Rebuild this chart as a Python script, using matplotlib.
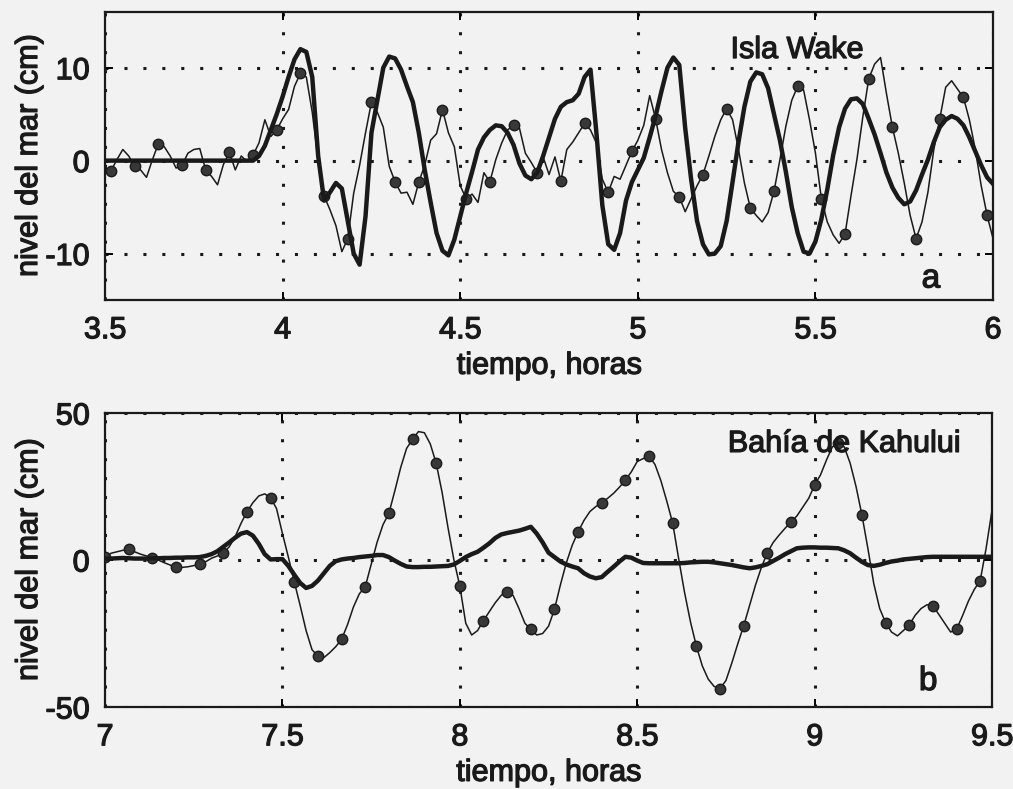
import numpy as np
import matplotlib
matplotlib.use("Agg")
import matplotlib.pyplot as plt
import matplotlib.patheffects as pe

plt.rcParams['font.family'] = ['Liberation Sans', 'DejaVu Sans']
plt.rcParams['axes.unicode_minus'] = False

# muestras cada minuto
t_wake_start = 3.5
t_kah_start = 7.0

# Isla Wake: observado (fino, con circulos) y modelo (grueso), cm
wake_obs = [
    -0.8, -1.1, 0.1, 1.2, 0.5, -0.6, -1.0, -1.8, 0.1, 1.8,
    1.5, 0.5, -0.8, -0.5, 0.8, 1.2, 1.3, -1.0, -1.7, -2.6,
    -0.4, 0.9, -1.0, 0.5, -0.1, 0.6, 1.9, 4.4, 2.6, 3.3,
    4.5, 5.5, 8.0, 9.4, 9.0, 5.2, 0.0, -3.8, -5.3, -7.0,
    -9.8, -8.4, -3.5, -0.5, 3.0, 6.3, 5.2, 3.6, -0.6, -2.3,
    -3.5, -3.4, -4.7, -2.3, -0.5, 2.2, 2.9, 5.5, 3.0, 1.5,
    -2.7, -4.1, -3.6, -4.5, -1.3, -2.3, 0.1, 1.9, 3.3, 3.8,
    3.5, 0.8, -0.2, -1.3, 0.4, -1.5, 0.4, -2.2, 1.2, 2.0,
    3.0, 4.0, 3.3, 1.9, -2.0, -3.4, -1.7, -2.0, -0.5, 1.0,
    2.2, 3.8, 7.0, 4.5, 1.2, -1.3, -3.3, -3.9, -5.5, -4.1,
    -2.7, -1.5, 0.5, 2.6, 4.4, 5.6, 4.4, 1.2, -2.4, -5.1,
    -5.9, -6.6, -5.6, -3.3, 0.1, 3.7, 6.5, 8.0, 7.6, 4.4,
    0.8, -4.1, -6.6, -8.0, -8.9, -7.9, -3.8, 0.1, 4.7, 8.8,
    10.4, 11.1, 7.2, 3.6, 0.8, -2.4, -5.9, -8.4, -6.6, -3.4,
    1.2, 4.5, 7.9, 8.6, 7.7, 6.8, 4.4, 1.2, -2.7, -5.9,
    -8.4]

wake_model = [
    0.0, 0.0, 0.0, 0.0, 0.0, 0.0, 0.0, 0.0, 0.0, 0.0,
    0.0, 0.0, 0.0, 0.0, 0.0, 0.0, 0.0, 0.0, 0.0, 0.0,
    0.0, 0.0, 0.0, 0.0, 0.0, 0.0, 0.5, 1.6, 3.3, 5.0,
    6.9, 9.0, 10.9, 12.0, 11.7, 9.0, 0.5, -4.3, -3.4, -2.4,
    -3.0, -6.5, -10.0, -11.2, -6.0, 3.0, 6.5, 10.0, 11.2, 11.0,
    9.8, 8.0, 6.3, 3.0, -1.0, -4.5, -7.8, -9.7, -10.2, -8.5,
    -6.0, -3.5, -1.2, 1.2, 2.5, 3.3, 3.8, 3.7, 3.0, 1.7,
    -0.3, -1.6, -2.0, -1.3, 0.5, 2.5, 4.5, 5.8, 6.3, 6.5,
    7.2, 9.0, 9.8, 3.0, -4.8, -9.0, -9.6, -7.8, -4.3, -2.3,
    -1.0, 0.3, 2.5, 4.8, 7.5, 10.0, 11.1, 10.3, 3.5, -2.0,
    -6.5, -9.0, -10.1, -10.0, -9.2, -6.5, -2.3, 2.0, 5.8, 8.5,
    9.5, 9.3, 7.8, 5.0, 2.2, -1.2, -5.0, -7.8, -9.8, -10.0,
    -8.7, -6.3, -3.1, 0.6, 3.6, 5.6, 6.6, 6.7, 6.1, 4.5,
    2.8, 0.8, -1.3, -2.9, -4.0, -4.7, -4.4, -3.2, -1.5, 0.1,
    2.0, 3.6, 4.4, 4.8, 4.5, 3.8, 2.5, 1.0, -0.5, -1.8,
    -2.5]

# Bahia de Kahului
kah_obs = [
    1.0, 2.3, 2.8, 3.3, 3.6, 2.8, 2.0, 1.4, 0.8, 0.0,
    -0.9, -1.7, -2.3, -2.5, -2.3, -1.9, -1.5, -0.6, 0.6, 1.4,
    2.3, 4.5, 7.9, 12.5, 16.4, 19.5, 21.8, 22.5, 21.2, 17.5,
    9.0, 1.0, -7.4, -15.5, -24.0, -30.5, -32.7, -33.2, -31.5, -29.5,
    -27.0, -22.0, -16.0, -11.5, -9.1, -1.5, 6.0, 12.0, 15.9, 23.5,
    31.5, 38.0, 41.0, 43.7, 43.3, 39.5, 32.9, 23.0, 11.0, 0.0,
    -8.9, -21.5, -25.5, -24.0, -20.6, -17.5, -14.5, -12.0, -10.8, -12.0,
    -16.5, -21.5, -23.6, -25.5, -25.0, -22.5, -16.8, -8.5, -1.0, 5.0,
    9.6, 13.5, 16.5, 18.2, 19.5, 21.0, 22.7, 24.8, 27.2, 30.0,
    33.5, 34.5, 35.4, 32.5, 27.0, 20.0, 12.5, 0.5, -11.0, -21.0,
    -29.3, -36.0, -40.5, -43.0, -43.7, -41.0, -35.0, -28.5, -22.4, -15.5,
    -8.5, -2.5, 2.5, 6.0, 8.5, 10.8, 13.0, 15.0, 18.0, 21.0,
    25.5, 29.0, 34.0, 38.5, 39.7, 38.5, 33.0, 25.0, 15.3, 4.0,
    -8.0, -16.5, -21.3, -24.5, -25.8, -24.0, -22.1, -18.8, -16.5, -15.2,
    -15.6, -18.5, -21.5, -24.5, -23.6, -19.0, -14.0, -10.0, -7.0, 4.0,
    17.0]

kah_model = [
    0.5, 0.5, 0.6, 0.7, 0.6, 0.5, 0.5, 0.5, 0.6, 0.6,
    0.7, 0.7, 0.8, 0.8, 0.9, 0.9, 1.0, 1.4, 2.0, 3.0,
    4.5, 6.0, 7.6, 9.0, 9.5, 8.3, 5.5, 2.0, 0.2, 0.3,
    0.3, -2.0, -5.0, -7.8, -9.5, -8.8, -7.0, -4.5, -2.0, -0.4,
    0.2, 0.5, 0.7, 1.0, 1.2, 1.4, 1.7, 1.7, 1.0, -0.2,
    -1.3, -2.2, -2.4, -2.4, -2.3, -2.3, -2.2, -2.1, -2.0, -1.5,
    -0.3, 1.0, 2.0, 2.8, 4.2, 5.7, 7.5, 8.7, 9.2, 9.6,
    10.0, 10.6, 11.3, 9.0, 6.0, 2.5, 1.0, -0.5, -1.5, -2.2,
    -2.8, -4.5, -5.6, -6.2, -5.8, -4.0, -2.3, -0.5, 1.1, 0.8,
    -0.2, -1.0, -1.1, -1.1, -1.1, -1.1, -1.1, -1.1, -1.0, -0.8,
    -0.7, -0.6, -0.6, -0.8, -1.1, -1.4, -1.7, -2.1, -2.5, -2.8,
    -2.5, -2.0, -1.4, -0.3, 0.8, 2.0, 3.0, 4.0, 4.2, 4.3,
    4.3, 4.2, 4.2, 4.1, 4.0, 3.3, 2.3, 0.8, -0.6, -1.7,
    -2.0, -1.6, -1.0, -0.5, -0.2, 0.2, 0.4, 0.6, 0.8, 1.0,
    1.1, 1.1, 1.1, 1.1, 1.1, 1.1, 1.1, 1.1, 1.1, 1.1,
    1.1]

wake_xticks = [3.5, 4, 4.5, 5, 5.5, 6]
wake_yticks = [-10, 0, 10]
kah_xticks = [7, 7.5, 8, 8.5, 9, 9.5]
kah_yticks = [-50, 0, 50]

t_wake = t_wake_start + np.arange(len(wake_obs)) / 60.0
t_kah = t_kah_start + np.arange(len(kah_obs)) / 60.0

ink = '#1a1a1a'
paper = '#f2f2f2'
fs = 22
bleed = [pe.withStroke(linewidth=0.9, foreground=ink)]

fig = plt.figure(figsize=(10.13, 7.89), dpi=100)
fig.patch.set_facecolor(paper)

ax1 = fig.add_axes([0.1037, 0.6198, 0.8766, 0.3650])
ax2 = fig.add_axes([0.1037, 0.1039, 0.8756, 0.3726])


def style(ax, xticks, yticks):
    ax.set_facecolor(paper)
    ax.set_xticks(xticks)
    ax.set_xticklabels([f'{v:g}' for v in xticks])
    ax.set_yticks(yticks)
    ax.grid(True, color=ink, linestyle=(0, (1, 5.2)), linewidth=2.2)
    ax.tick_params(direction='in', length=6, width=1.4, top=True, right=True,
                   labelsize=fs, labelcolor=ink, pad=11)
    for s in ax.spines.values():
        s.set_linewidth(1.6)
        s.set_color(ink)
    ax.set_xlabel('tiempo, horas', fontsize=fs, color=ink, labelpad=4)
    ax.set_ylabel('nivel del mar (cm)', fontsize=fs, color=ink, labelpad=1)
    for lab in ax.get_xticklabels() + ax.get_yticklabels():
        lab.set_path_effects(bleed)
    ax.xaxis.label.set_path_effects(bleed)
    ax.yaxis.label.set_path_effects(bleed)


# panel a
ax1.plot(t_wake, wake_obs, color=ink, lw=1.1, marker='o', markevery=(1, 4),
         ms=7.5, mfc='#383838', mec=ink, mew=1.0, zorder=3)
ax1.plot(t_wake, wake_model, color=ink, lw=3.2, zorder=4)
ax1.set_xlim(3.5, 6)
ax1.set_ylim(-15, 16)
style(ax1, wake_xticks, wake_yticks)
ax1.text(0.779, 0.868, 'Isla Wake', transform=ax1.transAxes, fontsize=fs,
         color=ink, ha='center', va='center', path_effects=bleed)
ax1.text(0.93, 0.073, 'a', transform=ax1.transAxes, fontsize=fs + 2,
         color=ink, ha='center', va='center', path_effects=bleed)

# panel b
ax2.plot(t_kah, kah_obs, color=ink, lw=1.1, marker='o', markevery=(0, 4),
         ms=7.5, mfc='#383838', mec=ink, mew=1.0, zorder=3)
ax2.plot(t_kah, kah_model, color=ink, lw=3.2, zorder=4)
ax2.set_xlim(7, 9.5)
ax2.set_ylim(-50, 50)
style(ax2, kah_xticks, kah_yticks)
ax2.text(0.833, 0.895, 'Bahía de Kahului', transform=ax2.transAxes, fontsize=fs,
         color=ink, ha='center', va='center', path_effects=bleed)
ax2.text(0.928, 0.087, 'b', transform=ax2.transAxes, fontsize=fs + 2,
         color=ink, ha='center', va='center', path_effects=bleed)

fig.savefig('out.png', dpi=100, facecolor=paper)
